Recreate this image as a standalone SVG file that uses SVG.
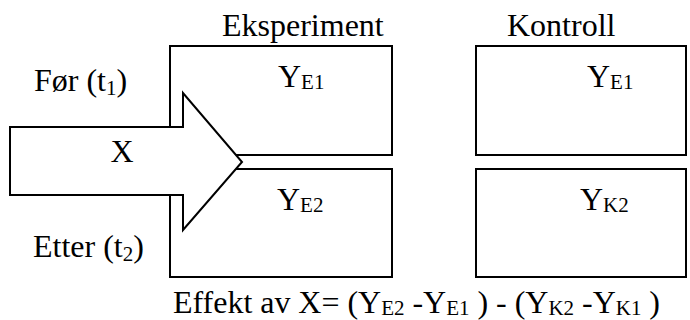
<svg xmlns="http://www.w3.org/2000/svg" width="690" height="320" viewBox="0 0 690 320">
<style>
text{font-family:"Liberation Serif","Times New Roman",serif;fill:#000;font-size:32px}
.sub{font-size:21px}
.box{fill:#fff;stroke:#000;stroke-width:2}
</style>
<rect width="690" height="320" fill="#fff"/>
<g id="labels">
<text x="222" y="36">Eksperiment</text>
<text x="507" y="36">Kontroll</text>
<text x="34" y="91">Før (t<tspan class="sub" dy="4">1</tspan><tspan dy="-4">)</tspan></text>
<text x="33" y="257">Etter (t<tspan class="sub" dy="4">2</tspan><tspan dy="-4">)</tspan></text>
</g>
<g id="box-E1">
<rect class="box" x="170" y="46" width="222" height="109"/>
<text x="278" y="87">Y<tspan class="sub" dy="2">E1</tspan></text>
</g>
<g id="box-E2">
<rect class="box" x="170" y="169" width="222" height="108"/>
<text x="277" y="210">Y<tspan class="sub" dy="2">E2</tspan></text>
</g>
<g id="box-K1">
<rect class="box" x="476" y="46" width="210" height="109"/>
<text x="587" y="87">Y<tspan class="sub" dy="2">E1</tspan></text>
</g>
<g id="box-K2">
<rect class="box" x="476" y="169" width="210" height="108"/>
<text x="580" y="210">Y<tspan class="sub" dy="2">K2</tspan></text>
</g>
<g id="connectors">
<g id="arrow-X">
<path class="box" d="M10,127 H183 V93 L242,162 L183,230 V195 H10 Z"/>
<text x="122" y="162" text-anchor="middle">X</text>
</g>
</g>
<g id="formula">
<text x="173" y="313" textLength="487">Effekt av X= (Y<tspan class="sub" dy="2">E2</tspan><tspan dy="-2"> -Y</tspan><tspan class="sub" dy="2">E1</tspan><tspan dy="-2"> ) - (Y</tspan><tspan class="sub" dy="2">K2</tspan><tspan dy="-2"> -Y</tspan><tspan class="sub" dy="2">K1</tspan><tspan dy="-2"> )</tspan></text>
</g>
</svg>
